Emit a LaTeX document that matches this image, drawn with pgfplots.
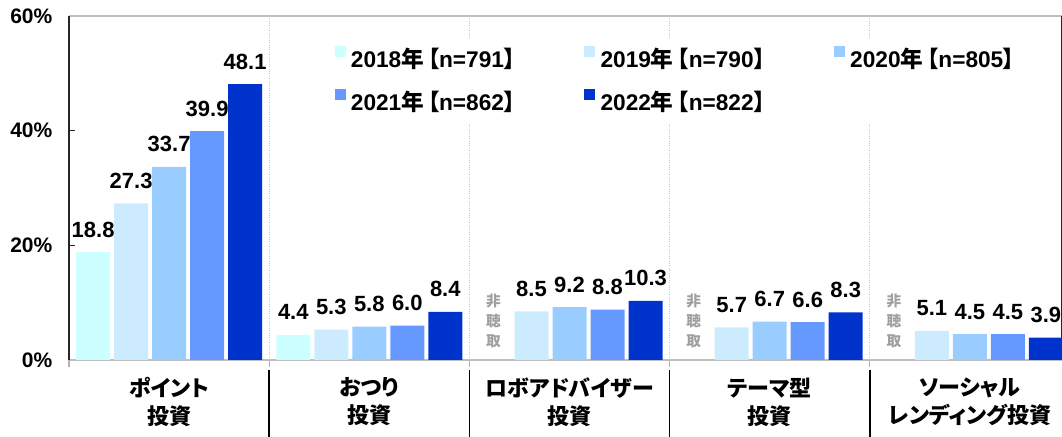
\documentclass[border=0pt]{standalone}
\usepackage{pgfplots}
\pgfplotsset{compat=1.18}
\usepackage{fontspec}
\setmainfont{Liberation Sans}
\newfontfamily\jp{Noto Sans CJK JP}
\newfontfamily\jpp{Noto Sans CJK JP}[RawFeature=+palt]
\definecolor{c18}{HTML}{CCFFFF}
\definecolor{c19}{HTML}{CCEBFF}
\definecolor{c20}{HTML}{99CCFF}
\definecolor{c21}{HTML}{6699FF}
\definecolor{c22}{HTML}{0033CC}
\begin{document}
\begin{tikzpicture}
\begin{axis}[
  scale only axis, clip=false,
  width=744.75pt, height=258pt,
  xmin=-0.5, xmax=4.46, ymin=0, ymax=60,
  ybar=3pt, bar width=25.5pt,
  xtick=\empty,
  ytick={0,20,40,60}, yticklabels={0\%,20\%,40\%,60\%},
  ytick pos=left,
  major tick length=4.5pt,
  ytick style={black!85, line width=0.8pt},
  yticklabel style={font=\bfseries\fontsize{15.75}{18}\selectfont, xshift=-9pt},
  separate axis lines,
  x axis line style={gray!50, line width=1.2pt},
  y axis line style={black!85, line width=1pt},
  /pgf/number format/assume math mode=true,
  /pgf/number format/.cd, fixed, fixed zerofill, precision=1, /pgfplots/.cd,
  nodes near coords,
  every node near coord/.append style={font=\bfseries\fontsize{16.5}{18}\selectfont, inner sep=0pt, yshift=11pt, text=black},
  legend columns=3,
  legend style={at={(rel axis cs:0.2618,0.936)}, anchor=north west, draw=none, fill=white,
    font=\bfseries\fontsize{17}{18}\selectfont, inner xsep=4pt, inner ysep=6pt,
    nodes={inner sep=0pt, text height=12pt, text depth=3pt},
    row sep=12.75pt,
    /tikz/every odd column/.append style={column sep=4pt},
    /tikz/every even column/.append style={column sep=47pt, text width=128pt}},
  legend image code/.code={\fill[#1] (0pt,3.5pt) rectangle (8.25pt,11.75pt);},
]
\pgfplotsinvokeforeach{0.5,1.5,2.5,3.5}{
  \draw[gray!45, densely dotted, line width=0.8pt] (axis cs:#1,0) -- (axis cs:#1,60);
  \draw[black, line width=1.1pt] (axis cs:#1,0) ++(0pt,-7.5pt) -- ++(0pt,-55pt);
}
\pgfplotsinvokeforeach{-0.5,0.5,1.5,2.5,3.5}{
  \draw[gray!60, line width=1pt] (axis cs:#1,0) -- ++(0pt,-5pt);
}
\addplot[fill=c18, draw=none] coordinates {(0,18.8) (1,4.4)};
\addplot[fill=c19, draw=none] coordinates {(0,27.3) (1,5.3) (2,8.5) (3,5.7) (4,5.1)};
\addplot[fill=c20, draw=none] coordinates {(0,33.7) (1,5.8) (2,9.2) (3,6.7) (4,4.5)};
\addplot[fill=c21, draw=none] coordinates {(0,39.9) (1,6.0) (2,8.8) (3,6.6) (4,4.5)};
\addplot[fill=c22, draw=none] coordinates {(0,48.1) (1,8.4) (2,10.3) (3,8.3) (4,3.9)};
\legend{2018{\jpp 年\,【}n=791{\jpp 】},2019{\jpp 年\,【}n=790{\jpp 】},2020{\jpp 年\,【}n=805{\jpp 】},2021{\jpp 年\,【}n=862{\jpp 】},2022{\jpp 年\,【}n=822{\jpp 】}}
\pgfplotsinvokeforeach{1.62,2.62,3.62}{
  \node[font=\jp\bfseries\fontsize{11}{15}\selectfont, text=gray!75, align=center, anchor=south, inner sep=0pt] at (axis cs:#1,0) [yshift=8.5pt] {非\\聴\\取};
}
\tikzset{catlab/.style={font=\jpp\bfseries\fontsize{16.5}{21}\selectfont, align=center, anchor=north, inner sep=0pt, yshift=-13pt}}
\node[catlab] at (axis cs:0,0) {ポイント\\投資};
\node[catlab] at (axis cs:1,0) {おつり\\投資};
\node[catlab] at (axis cs:2,0) {ロボアドバイザー\\投資};
\node[catlab] at (axis cs:3,0) {テーマ型\\投資};
\node[catlab] at (axis cs:4,0) {ソーシャル\\レンディング投資};
\coordinate (bl) at (rel axis cs:0,0);
\coordinate (tr) at (rel axis cs:1,1);
\end{axis}
\pgfresetboundingbox
\path ([xshift=-51.75pt,yshift=-57.75pt]bl) rectangle ([yshift=12pt]tr);
\end{tikzpicture}
\end{document}
